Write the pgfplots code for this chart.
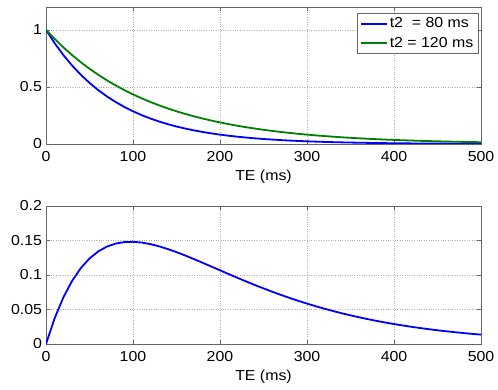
\documentclass[border=0pt]{standalone}
\usepackage{pgfplots}
\usepackage{pgfplotstable}
\pgfplotsset{compat=1.18}
\usepackage{fontspec}
\setmainfont{Liberation Sans}[FakeStretch=1.1]
\pgfplotstableread{
t a b d
0 1 1 0
10 0.882497 0.920044 0.037547
20 0.778801 0.846482 0.067681
30 0.687289 0.778801 0.091512
40 0.606531 0.716531 0.110000
50 0.535261 0.659241 0.123980
60 0.472367 0.606531 0.134164
70 0.416862 0.558035 0.141173
80 0.367879 0.513417 0.145538
90 0.324652 0.472367 0.147715
100 0.286505 0.434598 0.148093
110 0.252840 0.399850 0.147010
120 0.223130 0.367879 0.144749
130 0.196912 0.338465 0.141553
140 0.173774 0.311403 0.137629
150 0.153355 0.286505 0.133150
160 0.135335 0.263597 0.128262
170 0.119433 0.242521 0.123088
180 0.105399 0.223130 0.117731
190 0.093014 0.205289 0.112275
200 0.082085 0.188876 0.106791
210 0.072440 0.173774 0.101334
220 0.063928 0.159880 0.095952
230 0.056416 0.147097 0.090681
240 0.049787 0.135335 0.085548
250 0.043937 0.124514 0.080577
260 0.038774 0.114559 0.075785
270 0.034218 0.105399 0.071181
280 0.030197 0.096972 0.066775
290 0.026649 0.089218 0.062569
300 0.023518 0.082085 0.058567
310 0.020754 0.075522 0.054768
320 0.018316 0.069483 0.051167
330 0.016163 0.063928 0.047765
340 0.014264 0.058816 0.044552
350 0.012588 0.054114 0.041526
360 0.011109 0.049787 0.038678
370 0.009804 0.045806 0.036002
380 0.008652 0.042144 0.033492
390 0.007635 0.038774 0.031139
400 0.006738 0.035674 0.028936
410 0.005946 0.032822 0.026876
420 0.005248 0.030197 0.024949
430 0.004631 0.027783 0.023152
440 0.004087 0.025561 0.021474
450 0.003607 0.023518 0.019911
460 0.003183 0.021637 0.018454
470 0.002809 0.019907 0.017098
480 0.002479 0.018316 0.015837
490 0.002188 0.016851 0.014663
500 0.001930 0.015504 0.013574
}\data
\definecolor{mblue}{rgb}{0,0,1}
\definecolor{mgreen}{rgb}{0,0.5,0}
\pgfplotsset{
  mystyle/.style={
    scale only axis,
    width=435bp,
    xmin=0, xmax=500,
    xtick={0,100,200,300,400,500},
    tick align=inside,
    major tick length=4bp,
    axis line style={draw=black!60},
    tick style={draw=black!60},
    grid=major,
    grid style={dotted, black!30},
    xlabel={TE (ms)},
    xlabel style={yshift=-1bp},
    xticklabel style={yshift=-4bp},
    yticklabel style={xshift=-0.5bp},
    tick label style={font=\fontsize{14.5}{16}\selectfont},
    label style={font=\fontsize{14.5}{16}\selectfont},
    /pgf/number format/assume math mode=true,
    scaled y ticks=false,
    every axis plot/.append style={line width=1.8bp},
  }
}
\begin{document}
\begin{tikzpicture}[x=1bp,y=1bp]
\useasboundingbox (0,0) rectangle (498,389);
\begin{axis}[mystyle,
  at={(46bp,245bp)}, anchor=south west,
  height=137bp,
  ymin=0, ymax=1.2,
  ytick={0,0.5,1},
  legend style={at={(0.993,0.955)}, anchor=north east, draw=black!60,
    font=\fontsize{14.5}{16}\selectfont, inner sep=2.5bp, row sep=3.5bp,
    cells={anchor=west}},
  legend image code/.code={\draw[#1, line width=1.8bp] (0bp,0bp) -- (26bp,0bp);},
  legend cell align=left,
]
\addplot[mblue] table[x=t,y=a] {\data};
\addlegendentry{t2\ \ = 80 ms}
\addplot[mgreen] table[x=t,y=b] {\data};
\addlegendentry{t2 = 120 ms}
\end{axis}
\begin{axis}[mystyle,
  at={(46bp,45bp)}, anchor=south west,
  height=138bp,
  ymin=0, ymax=0.2,
  ytick={0,0.05,0.1,0.15,0.2},
  yticklabels={0,0.05,0.1,0.15,0.2},
]
\addplot[mblue] table[x=t,y=d] {\data};
\end{axis}
\end{tikzpicture}
\end{document}
